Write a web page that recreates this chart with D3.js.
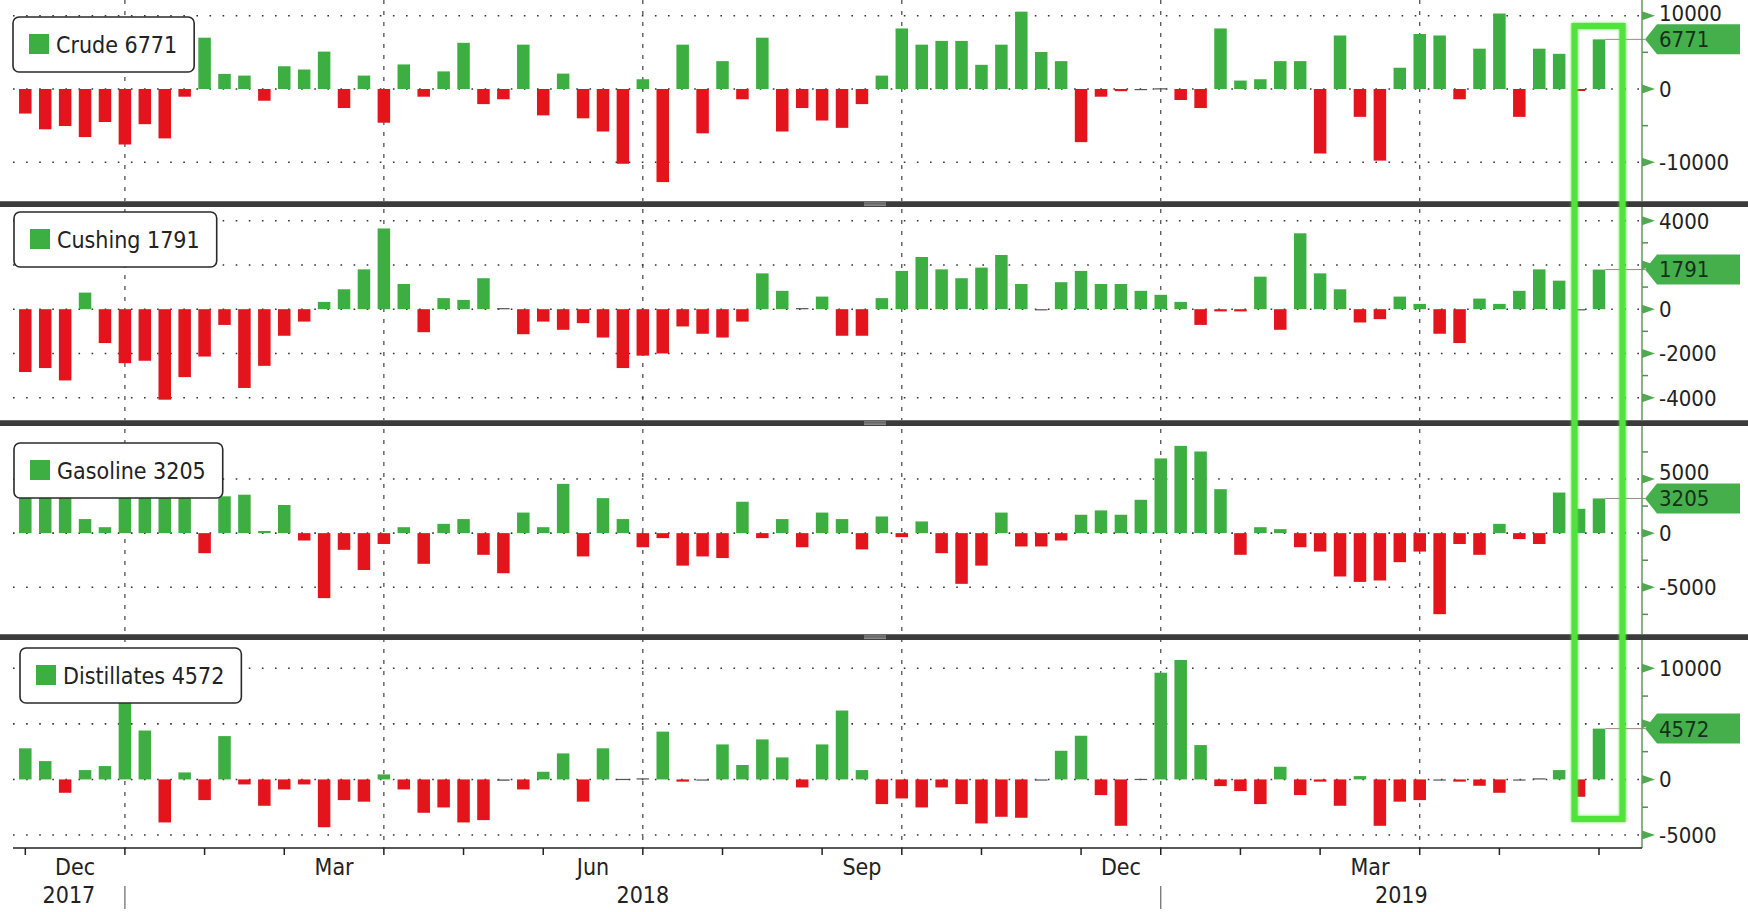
<!DOCTYPE html>
<html><head><meta charset="utf-8">
<script src="https://cdn.jsdelivr.net/npm/d3@7"></script>
<style>
html,body{margin:0;padding:0;background:#fff;}
svg text{font-family:"DejaVu Sans Condensed","DejaVu Sans",sans-serif;font-stretch:condensed;}
</style></head><body><svg id="chart" width="1748" height="912"></svg>
<script>
// ---------------- DATA (thousand barrels, weekly change) ----------------
const seriesNames = ["Crude", "Cushing", "Gasoline", "Distillates"];
const crude = [-3350,-5500,-5050,-6560,-4500,-7570,-4800,-6740,-1050,7000,
  2060,1830,-1600,3100,2660,5100,-2600,1830,-4600,3350,
  -1050,2400,6300,-2060,-1400,6050,-3600,2100,-4000,-5800,
  -10200,1330,-12700,6050,-6050,3800,-1400,7000,-5800,-2600,
  -4300,-5300,-2060,1830,8260,6050,6560,6560,3300,6050,
  10550,5050,3800,-7250,-1050,-300,-150,100,-1500,-2600,
  8260,1150,1330,3800,3800,-8800,7300,-3800,-9770,2900,
  7500,7300,-1400,5500,10300,-3800,5500,4800,-280,6771];
const cushing = [-2840,-2660,-3220,750,-1530,-2440,-2330,-4090,-3070,-2140,
  -710,-3560,-2560,-1200,-560,330,900,1800,3650,1140,
  -1040,500,420,1400,50,-1130,-560,-930,-630,-1280,
  -2660,-2100,-2000,-780,-1110,-1280,-560,1620,830,50,
  570,-1200,-1200,500,1730,2360,1800,1400,1880,2450,
  1140,-50,1220,1730,1140,1140,830,650,330,-710,
  -100,-100,1470,-930,3430,1620,900,-600,-450,570,
  240,-1110,-1530,480,240,830,1800,1290,-30,1791];
const gasoline = [3600,6800,5700,1300,550,4800,4100,3600,3800,-1850,
  3400,3550,200,2600,-680,-6000,-1540,-3400,-1000,550,
  -2830,860,1300,-2000,-3700,1900,550,4550,-2150,3230,
  1300,-1300,-460,-3000,-2150,-2300,2900,-460,1300,-1300,
  1900,1300,-1500,1540,-370,1080,-1850,-4680,-3000,1900,
  -1230,-1230,-680,1700,2100,1700,3080,6900,8060,7540,
  4060,-2000,550,370,-1300,-1700,-4000,-4500,-4370,-2680,
  -1700,-7480,-1000,-2000,860,-550,-1000,3750,2250,3205];
const distillates = [2800,1650,-1200,840,1200,7000,4400,-3870,630,-1860,
  3900,-450,-2370,-900,-450,-4300,-1860,-2000,450,-900,
  -3000,-2520,-3870,-3660,-120,-900,690,2340,-2000,2800,
  50,100,4300,-200,-100,3150,1300,3600,1980,-720,
  3150,6200,840,-2220,-1710,-2520,-720,-2220,-3960,-3360,
  -3450,-100,2580,3930,-1410,-4170,50,9600,10750,3090,
  -600,-1050,-2220,1140,-1410,-200,-2370,300,-4170,-2000,
  -1860,-50,-200,-570,-1200,-50,100,840,-1560,4572];
const seriesValues = [crude, cushing, gasoline, distillates];

// weekly categories (Bloomberg plots each release on the Friday of its week)
const firstWeek = "2017-12-01";
const weekCount = 80;
const labeledMonths = ["Dec", "Mar", "Jun", "Sep"];
const gridMonths = ["Jan", "Apr", "Jul", "Oct"];
const yearLabels = ["2017", "2018", "2019"];
const majorSteps = [10000, 2000, 5000, 5000];
const minorSteps = [5000, 1000, 2500, 2500];

// ---------------- LAYOUT ----------------
const W = 1748, H = 912;
const plotLeft = 13, plotRight = 1642;
const axisY = 848;
const panels = [
  {top: 0,   bottom: 201, dom: [-10000, 10000], rng: [162.3, 15.7], legY: 17,  legX: 13},
  {top: 207, bottom: 420, dom: [-4000, 4000],   rng: [397.7, 220.7], legY: 212, legX: 14},
  {top: 426, bottom: 633, dom: [-5000, 5000],   rng: [587.3, 479.0], legY: 443, legX: 14},
  {top: 640, bottom: 848, dom: [-5000, 10000],  rng: [835.0, 668.3], legY: 648, legX: 20}
];
const separators = [201, 420, 634];
const GREEN = "#3dae41", RED = "#e3141c", TAG = "#45b04b";
const barW = 12.5;

const svg = d3.select("#chart");
const defs = svg.append("defs");
const glow = defs.append("filter").attr("id", "glow").attr("x", "-50%").attr("y", "-5%").attr("width", "200%").attr("height", "110%");
glow.append("feGaussianBlur").attr("stdDeviation", 1.6).attr("result", "b");
const fm = glow.append("feMerge");
fm.append("feMergeNode").attr("in", "b");
fm.append("feMergeNode").attr("in", "SourceGraphic");

svg.append("rect").attr("width", W).attr("height", H).attr("fill", "#fff");

const parse = d3.timeParse("%Y-%m-%d");
const weeks = d3.range(weekCount).map(i => d3.timeDay.offset(parse(firstWeek), 7 * i));
const x = d3.scaleLinear().domain([0, weekCount - 1]).range([25.3, 1599]);
const monthFmt = d3.timeFormat("%b");

const monthStarts = weeks.map((d, i) => (i === 0 || d.getMonth() !== weeks[i - 1].getMonth()) ? i : -1).filter(i => i >= 0);
const yearStarts = weeks.map((d, i) => (i > 0 && d.getFullYear() !== weeks[i - 1].getFullYear()) ? i : -1).filter(i => i >= 0);
const gridIdx = monthStarts.filter(i => gridMonths.includes(monthFmt(weeks[i])));

// vertical quarter grid lines
svg.append("g").selectAll("line").data(gridIdx).join("line")
  .attr("x1", d => x(d)).attr("x2", d => x(d))
  .attr("y1", 0).attr("y2", axisY)
  .attr("stroke", "#444").attr("stroke-width", 1.2).attr("stroke-dasharray", "4,7");

panels.forEach((p, pi) => {
  const vals = seriesValues[pi];
  const y = d3.scaleLinear().domain(p.dom).range(p.rng);
  const g = svg.append("g");
  const inside = v => y(v) > p.top + 4 && y(v) < p.bottom - 4;
  const lo = y.invert(p.bottom), hi = y.invert(p.top);
  const majors = d3.range(Math.ceil(lo / majorSteps[pi]) * majorSteps[pi], hi + 1, majorSteps[pi]).filter(inside);
  const minors = d3.range(Math.ceil(lo / minorSteps[pi]) * minorSteps[pi], hi + 1, minorSteps[pi])
    .filter(v => inside(v) && !majors.includes(v));
  const last = vals[vals.length - 1];
  const yc = y(last);

  // dotted horizontal grid
  g.append("g").selectAll("line").data(majors).join("line")
    .attr("x1", plotLeft).attr("x2", plotRight)
    .attr("y1", d => y(d)).attr("y2", d => y(d))
    .attr("stroke", "#333").attr("stroke-width", 1.6).attr("stroke-dasharray", "1.6,11.5");

  // bars
  g.append("g").selectAll("rect").data(vals).join("rect")
    .attr("x", (d, i) => x(i) - barW / 2)
    .attr("width", barW)
    .attr("y", d => Math.min(y(d), y(0)))
    .attr("height", d => Math.max(1.2, Math.abs(y(d) - y(0))))
    .attr("fill", d => Math.abs(y(d) - y(0)) < 1.5 ? "#555" : (d >= 0 ? GREEN : RED));

  // last value guide line
  g.append("line").attr("x1", x(weekCount - 1) + barW / 2).attr("x2", plotRight + 3)
    .attr("y1", yc).attr("y2", yc).attr("stroke", "#9a8a80").attr("stroke-width", 1);

  // right axis ticks
  g.append("g").selectAll("path").data(majors).join("path")
    .attr("d", d => `M${plotRight},${y(d) - 4.5}L${plotRight + 13},${y(d)}L${plotRight},${y(d) + 4.5}Z`)
    .attr("fill", "#4fa94f");
  g.append("g").selectAll("line").data(minors).join("line")
    .attr("x1", plotRight).attr("x2", plotRight + 6)
    .attr("y1", d => y(d)).attr("y2", d => y(d))
    .attr("stroke", "#4f8f4f").attr("stroke-width", 1.5);
  // labels hidden behind the value tag are not drawn (as in the original);
  // labels just touching the tag are nudged clear of it
  const labelY = d => {
    const diff = y(d) - yc;
    if (Math.abs(diff) >= 26) return y(d);
    return yc + Math.sign(diff) * 26;
  };
  g.append("g").selectAll("text").data(majors.filter(d => Math.abs(y(d) - yc) > 13)).join("text")
    .attr("x", plotRight + 17).attr("y", d => labelY(d)).attr("dy", "0.36em")
    .attr("font-size", 22).attr("fill", "#222")
    .text(d => String(d));

  // value tag
  g.append("path")
    .attr("d", `M${plotRight + 3},${yc}L${plotRight + 15},${yc - 15}L1740,${yc - 15}L1740,${yc + 15}L${plotRight + 15},${yc + 15}Z`)
    .attr("fill", TAG);
  g.append("text").attr("x", plotRight + 17).attr("y", yc).attr("dy", "0.36em")
    .attr("font-size", 22).attr("fill", "#14301a").text(String(last));

  // legend
  const lg = g.append("g");
  const box = lg.append("rect").attr("x", p.legX).attr("y", p.legY).attr("height", 55)
    .attr("rx", 6).attr("fill", "#fff").attr("stroke", "#2a2a2a").attr("stroke-width", 1.6);
  lg.append("rect").attr("x", p.legX + 16).attr("y", p.legY + 17).attr("width", 20).attr("height", 20).attr("fill", GREEN);
  const t = lg.append("text").attr("x", p.legX + 43).attr("y", p.legY + 28).attr("dy", "0.36em")
    .attr("font-size", 23).attr("fill", "#222").text(`${seriesNames[pi]} ${last}`);
  box.attr("width", 43 + t.node().getComputedTextLength() + 17);
});

// right axis line
svg.append("line").attr("x1", plotRight).attr("x2", plotRight).attr("y1", 0).attr("y2", axisY)
  .attr("stroke", "#5f9a5f").attr("stroke-width", 1.5);

// separators
separators.forEach(s => {
  svg.append("rect").attr("x", 0).attr("y", s).attr("width", W).attr("height", 6).attr("fill", "#3b3b3b");
  svg.append("rect").attr("x", 0).attr("y", s).attr("width", W).attr("height", 1).attr("fill", "#6a6a6a");
  [1.8, 3.2, 4.6].forEach(o => svg.append("line").attr("x1", 864).attr("x2", 886)
    .attr("y1", s + o).attr("y2", s + o).attr("stroke", "#b5b5b5").attr("stroke-width", 0.7));
});

// x axis
const xa = svg.append("g");
xa.append("line").attr("x1", plotLeft).attr("x2", plotRight).attr("y1", axisY).attr("y2", axisY)
  .attr("stroke", "#222").attr("stroke-width", 1.5);
xa.selectAll("line.tick").data(monthStarts).join("line").attr("class", "tick")
  .attr("x1", d => x(d)).attr("x2", d => x(d)).attr("y1", axisY).attr("y2", axisY + 7)
  .attr("stroke", "#222").attr("stroke-width", 1.5);
const monthLabelData = monthStarts.map((s, j) => ({s, e: monthStarts[j + 1], m: monthFmt(weeks[s])}))
  .filter(d => d.e !== undefined && labeledMonths.includes(d.m));
xa.selectAll("text.month").data(monthLabelData).join("text").attr("class", "month")
  .attr("x", d => (x(d.s) + x(d.e)) / 2).attr("y", 875)
  .attr("text-anchor", "middle").attr("font-size", 23).attr("fill", "#222").text(d => d.m);
const yb = [plotLeft].concat(yearStarts.map(i => x(i))).concat([plotRight]);
xa.selectAll("text.year").data(yearLabels).join("text").attr("class", "year")
  .attr("x", (d, i) => (yb[i] + yb[i + 1]) / 2).attr("y", 903)
  .attr("text-anchor", "middle").attr("font-size", 23).attr("fill", "#222").text(d => d);
xa.selectAll("line.ysep").data(yearStarts).join("line").attr("class", "ysep")
  .attr("x1", d => x(d)).attr("x2", d => x(d)).attr("y1", 886).attr("y2", 909)
  .attr("stroke", "#666").attr("stroke-width", 1.2);

// highlight box around the latest week
const hx = x(weekCount - 1);
svg.append("rect").attr("x", hx - 24.5).attr("y", 26).attr("width", 48).attr("height", 793)
  .attr("fill", "none").attr("stroke", "#52e23e").attr("stroke-width", 6).attr("filter", "url(#glow)");
</script></body></html>
